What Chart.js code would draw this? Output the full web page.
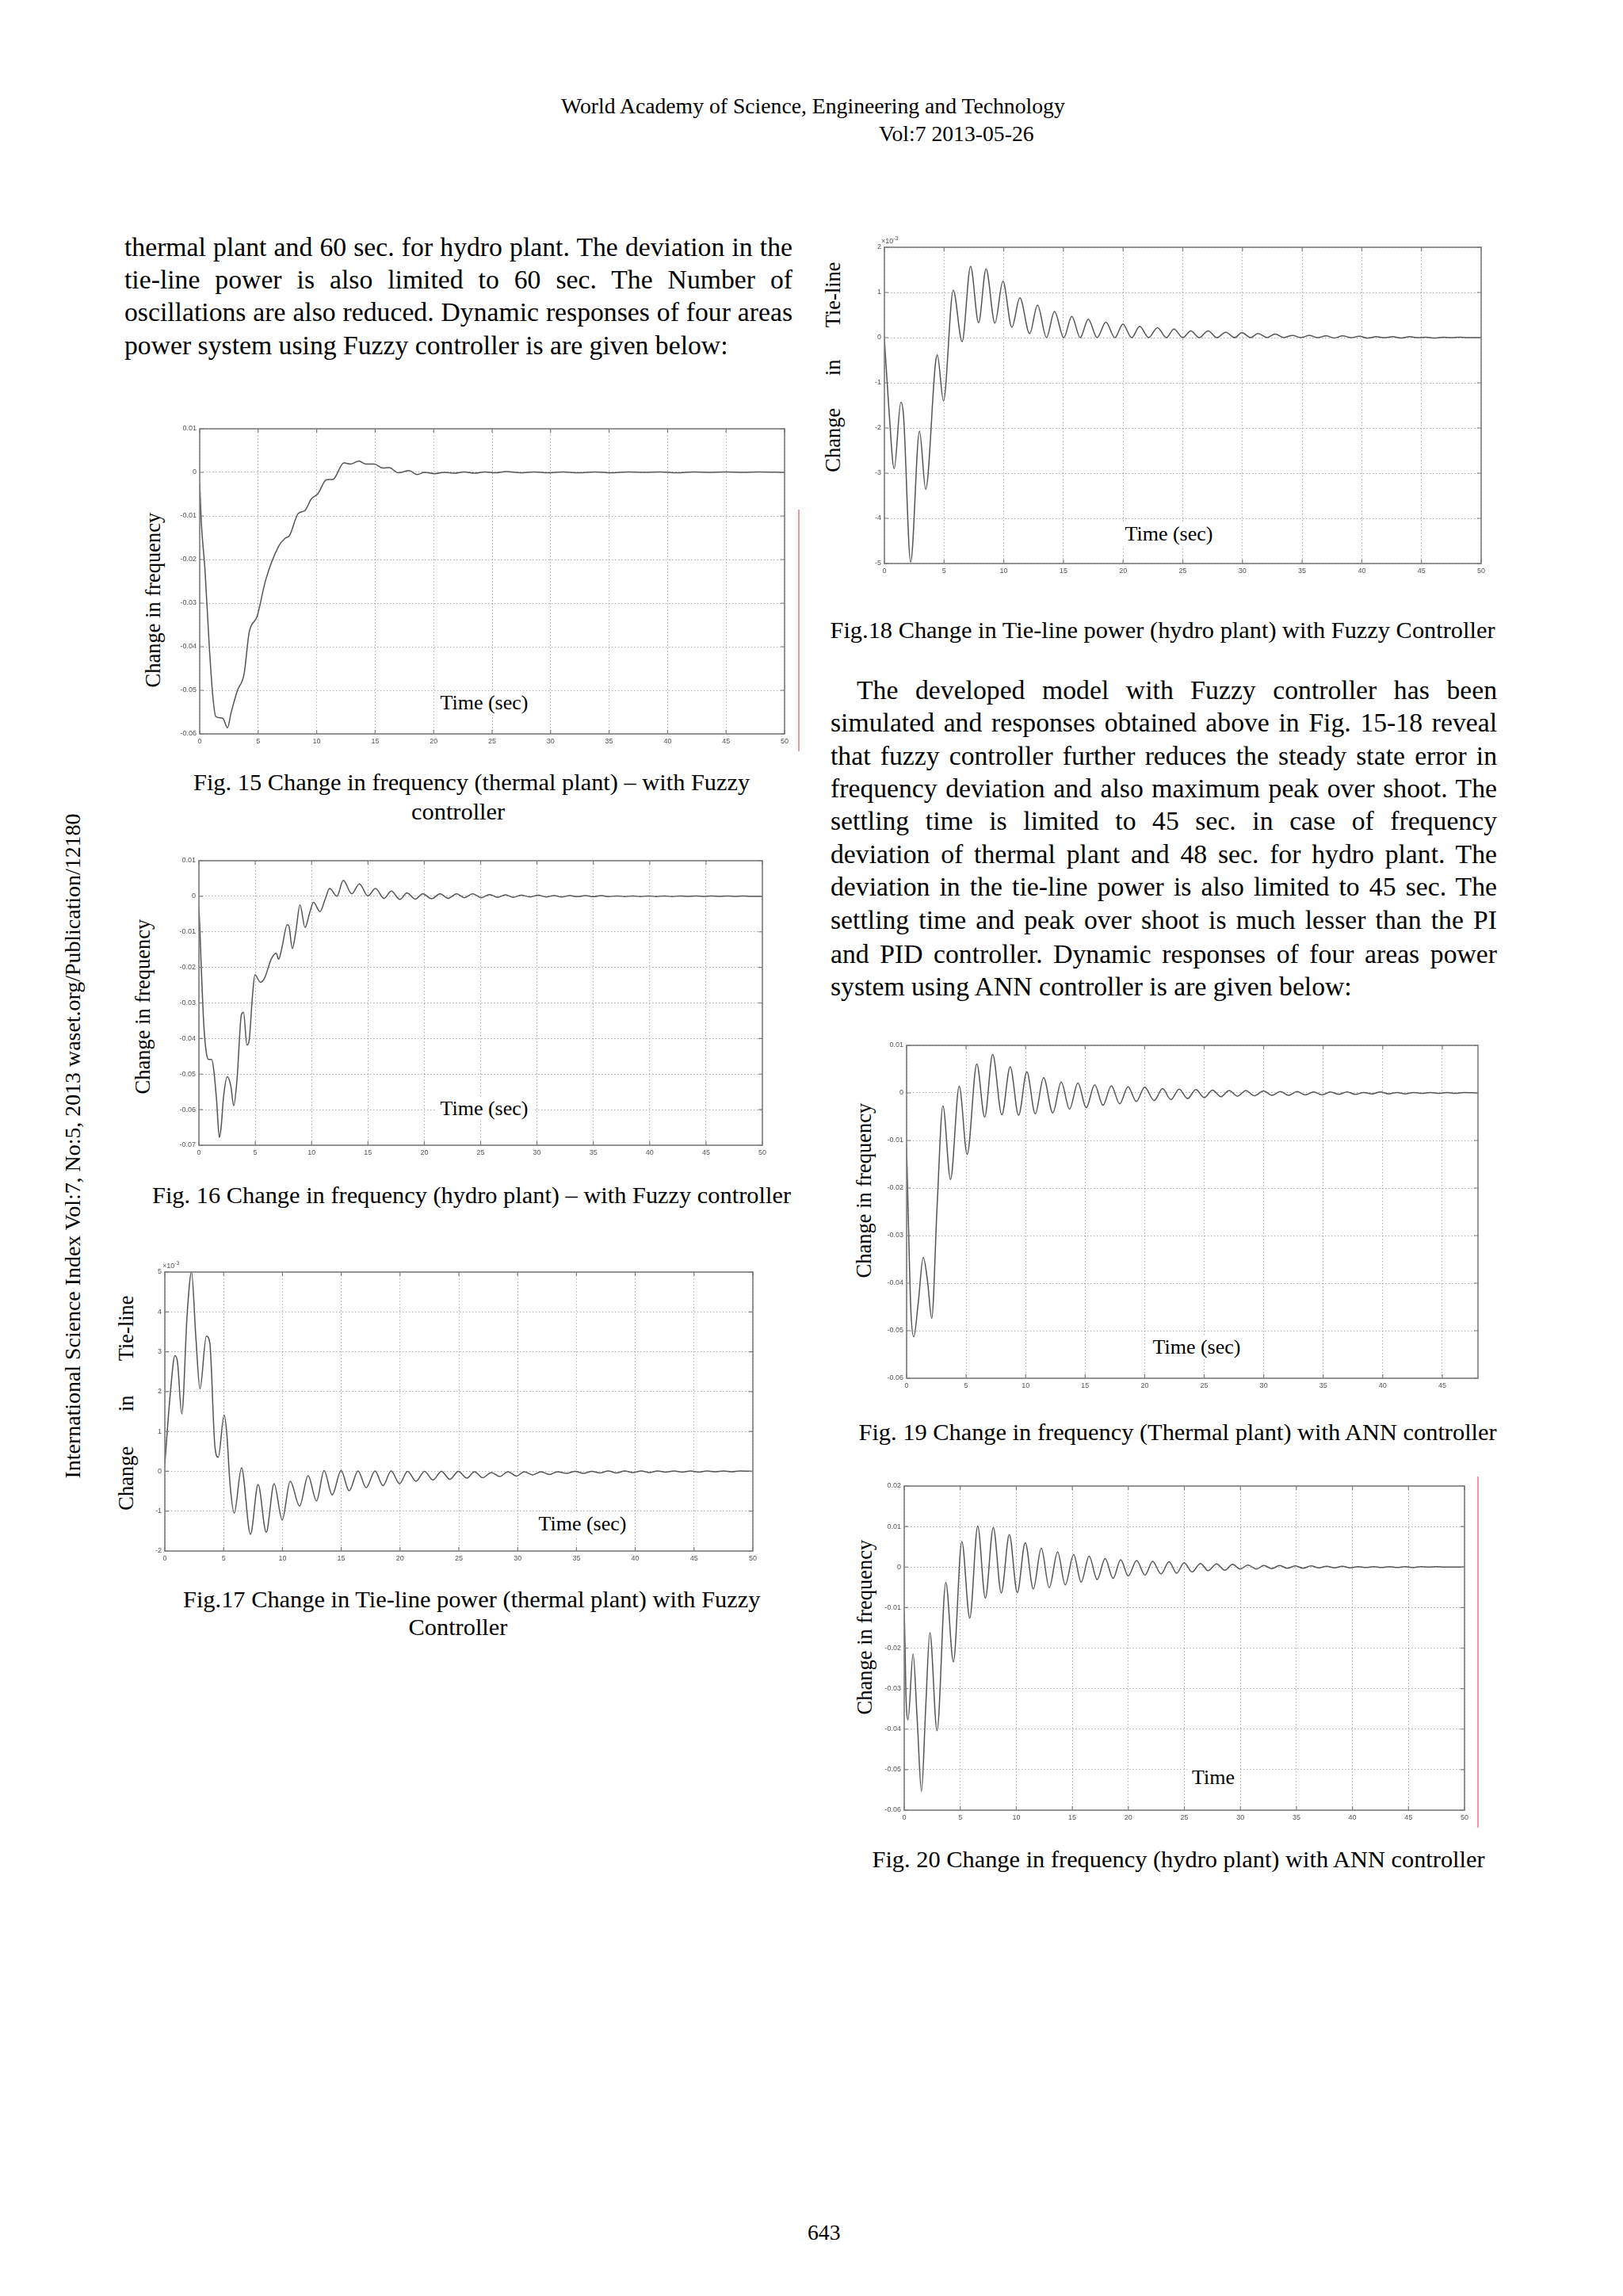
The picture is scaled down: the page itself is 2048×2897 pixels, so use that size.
<!DOCTYPE html>
<html>
<head>
<meta charset="utf-8">
<script src="https://cdn.jsdelivr.net/npm/chart.js@4.4.0/dist/chart.umd.min.js"></script>
<style>
html,body{margin:0;padding:0;background:#fff;}
body{width:2048px;height:2897px;position:relative;overflow:hidden;font-family:"Liberation Serif","Times New Roman",serif;color:#000;}
canvas{position:absolute;}
.t{position:absolute;white-space:nowrap;line-height:1;}
.j{position:absolute;line-height:1;text-align:justify;text-align-last:justify;}
.lab{position:absolute;background:#fff;line-height:1;white-space:nowrap;padding:2px 6px;transform:translate(-50%,-50%);}
.rot{position:absolute;white-space:pre;line-height:1;transform:translate(-50%,-50%) rotate(-90deg);}
.red{position:absolute;width:2px;background:#f09a9a;}
</style>
</head>
<body>
<canvas id="c15"></canvas>
<canvas id="c16"></canvas>
<canvas id="c17"></canvas>
<canvas id="c18"></canvas>
<canvas id="c19"></canvas>
<canvas id="c20"></canvas>
<script>
// ---- datos (tiempo en s, valor) ----
var xTicks50 = [0,5,10,15,20,25,30,35,40,45,50];
var xTicks45 = [0,5,10,15,20,25,30,35,40,45];

// Fig.15 cambio de frecuencia, planta termica, fuzzy
var f15YTicks = [0.01,0,-0.01,-0.02,-0.03,-0.04,-0.05,-0.06];
var f15T = [0,0.15,0.45,0.82,1.11,1.37,1.74,2.0,2.38,2.67,3.23,3.79,4.23,4.9,5.64,6.76,7.31,7.68,8.43,8.98,9.54,10.1,10.84,11.4,12.32,12.88,13.62,14.18,14.92,15.66,16.2,16.96,17.9,18.6,19.2,20.1,20.9,21.8,22.6,23.5,24.4,25.3,26.2,27.4,28.6,29.8,31,32.4,33.8,35.2,36.6,38,39.4,40.8,42.2,43.6,45,46.4,47.8,50];
var f15V = [-0.0025,-0.012,-0.0223,-0.040,-0.051,-0.056,-0.0563,-0.0565,-0.0586,-0.0553,-0.050,-0.0463,-0.0367,-0.0331,-0.0247,-0.0169,-0.0151,-0.0145,-0.0094,-0.0088,-0.0061,-0.0049,-0.0017,-0.0016,0.0022,0.0019,0.0026,0.0019,0.0019,0.001,0.0011,-0.0001,0.0004,-0.0005,0.0,-0.0003,0.0,-0.0002,0.0001,-0.0002,0.0001,-0.0001,0.0002,-0.0001,0.0001,-0.0001,0.0001,-0.0001,0.0001,-0.0001,0.0001,0,0.0001,-0.0001,0.0001,0,0.0001,0,0.0001,0];

// Fig.16 cambio de frecuencia, planta hidro, fuzzy
var f16YTicks = [0.01,0,-0.01,-0.02,-0.03,-0.04,-0.05,-0.06,-0.07];
var f16T = [0,0.08,0.19,0.45,0.68,0.87,1.13,1.32,1.58,1.81,1.96,2.19,2.52,2.83,3.09,3.39,3.77,3.96,4.26,4.45,4.75,4.97,5.46,5.84,6.41,6.86,7.08,7.35,7.84,7.99,8.29,8.59,8.97,9.42,9.8,10.17,10.74,11.23,11.6,12.25,12.81,13.56,14.24,14.99,15.67,16.43,17.07,17.83,18.46,19.22,19.86,20.65,21.4,22.12,22.87,23.55,24.3,25.05,25.8,26.5,27.2,27.9,28.6,29.4,30.1,30.8,31.5,32.2,32.9,33.6,34.3,35.0,35.7,36.4,37.1,37.8,38.5,39.2,39.9,40.6,41.3,42,42.7,43.4,44.1,44.8,45.5,46.2,46.9,47.6,48.3,49,50];
var f16V = [-0.0032,-0.0088,-0.0185,-0.037,-0.0444,-0.0459,-0.0459,-0.0489,-0.0578,-0.0678,-0.0653,-0.0563,-0.0507,-0.0533,-0.0589,-0.0511,-0.0333,-0.0326,-0.0418,-0.0407,-0.0281,-0.0221,-0.0242,-0.0229,-0.0177,-0.016,-0.0177,-0.0147,-0.008,-0.0084,-0.0147,-0.0102,-0.0024,-0.0088,-0.005,-0.0017,-0.0043,-0.0006,0.0022,0.0,0.0045,0.0007,0.0035,0.0001,0.0022,-0.0006,0.0015,-0.0009,0.0009,-0.0008,0.0007,-0.0007,0.0007,-0.0006,0.0007,-0.0004,0.0007,-0.0004,0.0005,-0.0003,0.0004,-0.0003,0.0003,-0.0002,0.0003,-0.0002,0.0002,-0.0002,0.0002,-0.0001,0.0002,-0.0001,0.0002,-0.0001,0.0001,-0.0001,0.0001,-0.0001,0.0001,-0.0001,0.0001,-0.0001,0.0001,0,0.0001,0,0.0001,0,0.0001,0,0.0001,0,0];

// Fig.17 cambio tie-line, planta termica (x10^-3)
var f17YTicks = [5,4,3,2,1,0,-1,-2];
var f17T = [0,0.47,0.86,1.08,1.44,1.9,2.27,2.63,2.99,3.53,3.82,4.25,4.54,5.04,5.26,5.55,5.9,6.52,7.28,7.93,8.62,9.29,9.98,10.66,11.46,12.18,12.9,13.54,14.23,14.99,15.67,16.43,17.12,17.87,18.55,19.24,19.96,20.64,21.36,22.08,22.8,23.52,24.24,24.96,25.68,26.33,27.02,27.77,28.46,29.18,29.9,30.55,31.27,31.99,32.7,33.4,34.15,34.9,35.6,36.3,37.0,37.7,38.4,39.1,39.8,40.5,41.2,41.9,42.6,43.3,44.0,44.7,45.4,46.1,46.8,47.5,48.2,48.9,50];
var f17V = [0.19,1.97,2.9,2.73,1.44,3.95,5.0,3.4,2.07,3.39,3.23,0.65,0.35,1.41,0.98,-0.34,-1.05,0.09,-1.58,-0.33,-1.53,-0.31,-1.22,-0.25,-0.87,-0.11,-0.74,0.02,-0.59,0.02,-0.49,0.01,-0.41,0.01,-0.36,0.01,-0.31,0.0,-0.25,0,-0.22,0,-0.2,0,-0.17,-0.01,-0.16,-0.03,-0.13,-0.01,-0.12,-0.01,-0.09,-0.01,-0.08,-0.01,-0.05,0.0,-0.05,0.0,-0.04,0.01,-0.04,0.01,-0.03,0.01,-0.03,0.01,-0.02,0.01,-0.02,0.01,-0.02,0.01,-0.01,0.01,-0.01,0.01,0];

// Fig.18 cambio tie-line, planta hidro (x10^-3)
var f18YTicks = [2,1,0,-1,-2,-3,-4,-5];
var f18T = [0,0.37,0.82,1.38,1.6,2.2,2.94,3.46,4.28,4.43,4.95,5.77,6.51,7.22,7.89,8.52,9.26,9.93,10.68,11.35,12.17,12.83,13.58,14.25,15.03,15.7,16.41,17.08,17.82,18.56,19.31,19.98,20.72,21.39,22.14,22.88,23.62,24.26,25.0,25.67,26.38,27.12,27.86,28.6,29.35,29.95,30.7,31.3,32.07,32.74,33.45,34.2,34.9,35.6,36.3,37.0,37.7,38.4,39.1,39.8,40.5,41.2,41.9,42.6,43.3,44.0,44.7,45.4,46.1,46.8,47.5,48.2,48.9,50];
var f18V = [-0.03,-1.55,-2.9,-1.43,-1.72,-4.97,-2.07,-3.36,-0.56,-0.38,-1.40,1.05,-0.09,1.58,0.33,1.52,0.32,1.25,0.23,0.88,0.09,0.72,0.0,0.58,0,0.47,0,0.41,0,0.34,0,0.3,0,0.25,0,0.22,0,0.19,0,0.15,0,0.15,0,0.12,0,0.11,0,0.09,0,0.08,0,0.05,0,0.05,0,0.04,-0.01,0.04,0,0.03,-0.01,0.02,0,0.02,-0.01,0.02,0,0.01,-0.01,0.01,0,0.01,0,0];

// Fig.19 cambio de frecuencia, planta termica, ANN
var f19YTicks = [0.01,0,-0.01,-0.02,-0.03,-0.04,-0.05,-0.06];
var f19T = [0,0.1,0.35,0.6,0.98,1.4,1.76,2.11,2.56,3.05,3.69,4.42,5.09,5.9,6.56,7.23,8.0,8.7,9.41,10.1,10.81,11.51,12.28,12.99,13.69,14.39,15.09,15.8,16.5,17.2,17.9,18.6,19.3,20.0,20.8,21.5,22.2,22.9,23.6,24.3,25.0,25.7,26.4,27.1,27.8,28.5,29.2,30.0,30.7,31.4,32.1,32.8,33.5,34.2,34.9,35.6,36.3,37.0,37.7,38.4,39.1,39.8,40.5,41.2,41.9,42.6,43.3,44.0,44.7,45.4,46.1,46.8,48];
var f19V = [-0.0113,-0.0218,-0.0452,-0.0513,-0.0441,-0.0346,-0.0396,-0.0474,-0.024,-0.0027,-0.0182,0.0014,-0.0129,0.0061,-0.0051,0.0081,-0.0046,0.0055,-0.0047,0.0044,-0.0044,0.0032,-0.0042,0.0023,-0.0034,0.0021,-0.0031,0.0017,-0.0026,0.0015,-0.0023,0.0013,-0.0018,0.0012,-0.0016,0.0009,-0.0014,0.0008,-0.0012,0.0007,-0.001,0.0006,-0.0008,0.0005,-0.0007,0.0005,-0.0006,0.0004,-0.0005,0.0003,-0.0005,0.0003,-0.0004,0.0002,-0.0004,0.0002,-0.0003,0.0002,-0.0003,0.0001,-0.0002,0.0002,-0.0002,0.0001,-0.0002,0.0001,-0.0001,0.0001,-0.0001,0.0001,-0.0001,0.0001,0];

// Fig.20 cambio de frecuencia, planta hidro, ANN
var f20YTicks = [0.02,0.01,0,-0.01,-0.02,-0.03,-0.04,-0.05,-0.06];
var f20T = [0,0.07,0.15,0.34,0.79,1.16,1.54,1.91,2.29,2.93,3.71,4.39,5.14,5.85,6.56,7.24,7.95,8.66,9.38,10.09,10.8,11.52,12.23,12.94,13.69,14.37,15.12,15.79,16.5,17.22,17.93,18.64,19.32,19.99,20.74,21.49,22.17,22.92,23.63,24.31,24.98,25.69,26.44,27.12,27.87,28.62,29.3,29.97,30.68,31.43,32.1,32.8,33.5,34.2,34.9,35.6,36.3,37.0,37.7,38.4,39.1,39.8,40.5,41.2,41.9,42.6,43.3,44.0,44.7,45.4,46.1,46.8,47.5,48.2,50];
var f20V = [-0.011,-0.0188,-0.031,-0.0377,-0.0214,-0.0377,-0.0554,-0.0351,-0.0162,-0.0404,-0.0038,-0.0234,0.0063,-0.0126,0.0101,-0.0077,0.0098,-0.0064,0.008,-0.0063,0.006,-0.0054,0.0047,-0.0051,0.0037,-0.0044,0.0031,-0.0037,0.0027,-0.0031,0.0021,-0.0028,0.0018,-0.0022,0.0016,-0.002,0.0014,-0.0017,0.0013,-0.0015,0.0011,-0.0012,0.0009,-0.0009,0.0008,-0.0008,0.0007,-0.0005,0.0005,-0.0005,0.0004,-0.0004,0.0004,-0.0003,0.0003,-0.0003,0.0003,-0.0002,0.0002,-0.0002,0.0002,-0.0002,0.0001,-0.0001,0.0001,-0.0001,0.0001,-0.0001,0.0001,-0.0001,0.0001,0,0.0001,0,0];

// marco y marcas hacia dentro, estilo matlab
var marco = {
  id:'marco',
  afterDraw:function(c){
    var a = c.chartArea, g = c.ctx, sx = c.scales.x, sy = c.scales.y;
    g.save();
    g.strokeStyle = '#7d7d7d';
    g.lineWidth = 1.6;
    g.strokeRect(a.left, a.top, a.right-a.left, a.bottom-a.top);
    g.lineWidth = 1.2;
    g.beginPath();
    sx.ticks.forEach(function(t){
      var p = sx.getPixelForValue(t.value);
      g.moveTo(p, a.bottom); g.lineTo(p, a.bottom-5);
      g.moveTo(p, a.top); g.lineTo(p, a.top+5);
    });
    sy.ticks.forEach(function(t){
      var p = sy.getPixelForValue(t.value);
      g.moveTo(a.left, p); g.lineTo(a.left+5, p);
      g.moveTo(a.right, p); g.lineTo(a.right-5, p);
    });
    g.stroke();
    g.restore();
  }
};

function grafica(id, box, xs, ys, xTicks, yTicks, xMax){
  var padL = 34, padR = 16, padT = 10, padB = 20;
  var cv = document.getElementById(id);
  var w = box[2]-box[0]+padL+padR, h = box[3]-box[1]+padT+padB;
  cv.width = w; cv.height = h;
  cv.style.left = (box[0]-padL)+'px';
  cv.style.top = (box[1]-padT)+'px';
  cv.style.width = w+'px'; cv.style.height = h+'px';
  var pts = xs.map(function(x,i){ return {x:x, y:ys[i]}; });
  var fuente = {family:'"Liberation Sans", Arial, sans-serif', size:9};
  return new Chart(cv.getContext('2d'), {
    type:'line',
    data:{datasets:[{data:pts, borderColor:'#555555', borderWidth:1.5, pointRadius:0, fill:false, cubicInterpolationMode:'monotone'}]},
    options:{
      responsive:false, animation:false, devicePixelRatio:1,
      layout:{padding:{top:padT, right:padR, left:0, bottom:0}},
      plugins:{legend:{display:false}, tooltip:{enabled:false}},
      scales:{
        x:{type:'linear', min:0, max:xMax,
          afterFit:function(s){ s.height = padB; },
          afterBuildTicks:function(s){ s.ticks = xTicks.map(function(v){ return {value:v}; }); },
          ticks:{font:fuente, color:'#555', padding:4, maxRotation:0, autoSkip:false, callback:function(v){ return String(v); }},
          grid:{color:'rgba(120,120,120,0.6)', lineWidth:1, drawTicks:false},
          border:{display:false, dash:[1.5,2.5]}},
        y:{type:'linear', min:yTicks[yTicks.length-1], max:yTicks[0],
          afterFit:function(s){ s.width = padL; },
          afterBuildTicks:function(s){ s.ticks = yTicks.map(function(v){ return {value:v}; }); },
          ticks:{font:fuente, color:'#555', padding:4, autoSkip:false, callback:function(v){ return String(v); }},
          grid:{color:'rgba(120,120,120,0.6)', lineWidth:1, drawTicks:false},
          border:{display:false, dash:[1.5,2.5]}}
      }
    },
    plugins:[marco]
  });
}

grafica('c15', [252,541,990,926], f15T, f15V, xTicks50, f15YTicks, 50);
grafica('c16', [251,1086,962,1445], f16T, f16V, xTicks50, f16YTicks, 50);
grafica('c17', [208,1605,950,1957], f17T, f17V, xTicks50, f17YTicks, 50);
grafica('c18', [1116,312,1869,711], f18T, f18V, xTicks50, f18YTicks, 50);
grafica('c19', [1144,1319,1865,1739], f19T, f19V, xTicks45, f19YTicks, 48);
grafica('c20', [1141,1875,1848,2284], f20T, f20V, xTicks50, f20YTicks, 50);

// ---- textos de la pagina ----
function texto(txt, x, yc, size, align){
  var d = document.createElement('div');
  d.className = 't';
  d.textContent = txt;
  d.style.fontSize = size+'px';
  d.style.top = (yc - 0.56*size)+'px';
  document.body.appendChild(d);
  if(align === 'c'){ d.style.left = (x - d.offsetWidth/2)+'px'; }
  else { d.style.left = x+'px'; }
  return d;
}
var tamParrafo = 33.7;
function linea(txt, x, yc, w, ultima, sangria){
  var d = document.createElement('div');
  d.className = 'j';
  d.textContent = txt;
  d.style.fontSize = tamParrafo+'px';
  d.style.left = x+'px';
  d.style.width = w+'px';
  d.style.top = (yc - 0.56*tamParrafo)+'px';
  if(ultima){ d.style.textAlignLast = 'left'; }
  if(sangria){ d.style.textIndent = sangria+'px'; }
  document.body.appendChild(d);
}
function vertical(txt, xc, yc, size, espacio){
  var d = document.createElement('div');
  d.className = 'rot';
  d.textContent = txt;
  d.style.fontSize = size+'px';
  d.style.left = xc+'px';
  d.style.top = yc+'px';
  if(espacio){ d.style.wordSpacing = espacio+'px'; }
  document.body.appendChild(d);
}
function etiqueta(txt, xc, yc){
  var d = document.createElement('div');
  d.className = 'lab';
  d.textContent = txt;
  d.style.fontSize = '26px';
  d.style.left = xc+'px';
  d.style.top = yc+'px';
  document.body.appendChild(d);
}
function rojo(x, y1, y2){
  var d = document.createElement('div');
  d.className = 'red';
  d.style.left = x+'px'; d.style.top = y1+'px'; d.style.height = (y2-y1)+'px';
  document.body.appendChild(d);
}
function exponente(x, y){
  var d = document.createElement('div');
  d.className = 't';
  d.style.left = x+'px'; d.style.top = y+'px';
  d.style.fontFamily = '"Liberation Sans", Arial, sans-serif';
  d.style.fontSize = '9px'; d.style.color = '#555';
  d.innerHTML = '&times;10<sup style="font-size:7px">-3</sup>';
  document.body.appendChild(d);
}

texto('World Academy of Science, Engineering and Technology', 1026, 136, 27.7, 'c');
texto('Vol:7 2013-05-26', 1109, 171, 27.7);
vertical('International Science Index Vol:7, No:5, 2013 waset.org/Publication/12180', 92, 1446, 27.9);
texto('643', 1040, 2819, 27.7, 'c');

linea('thermal plant and 60 sec. for hydro plant. The deviation in the', 157, 314, 843);
linea('tie-line power is also limited to 60 sec. The Number of', 157, 355, 843);
linea('oscillations are also reduced. Dynamic responses of four areas', 157, 396, 843);
linea('power system using Fuzzy controller is are given below:', 157, 438, 843, true);

linea('The developed model with Fuzzy controller has been', 1048, 873, 841, false, 33);
linea('simulated and responses obtained above in Fig. 15-18 reveal', 1048, 914, 841);
linea('that fuzzy controller further reduces the steady state error in', 1048, 956, 841);
linea('frequency deviation and also maximum peak over shoot. The', 1048, 997, 841);
linea('settling time is limited to 45 sec. in case of frequency', 1048, 1038, 841);
linea('deviation of thermal plant and 48 sec. for hydro plant. The', 1048, 1080, 841);
linea('deviation in the tie-line power is also limited to 45 sec. The', 1048, 1121, 841);
linea('settling time and peak over shoot is much lesser than the PI', 1048, 1163, 841);
linea('and PID controller. Dynamic responses of four areas power', 1048, 1206, 841);
linea('system using ANN controller is are given below:', 1048, 1247, 841, true);

// titulos de eje y etiquetas dentro de la grafica
vertical('Change in frequency', 193, 757, 26.5);
vertical('Change in frequency', 180, 1270, 26.5);
vertical('Change in Tie-line', 159, 1770, 26.5, 37);
vertical('Change in Tie-line', 1051, 463, 26.5, 34);
vertical('Change in frequency', 1090, 1502, 26.5);
vertical('Change in frequency', 1091, 2053, 26.5);

etiqueta('Time (sec)', 611, 887);
etiqueta('Time (sec)', 611, 1399);
etiqueta('Time (sec)', 735, 1923);
etiqueta('Time (sec)', 1475, 674);
etiqueta('Time (sec)', 1510, 1700);
etiqueta('Time', 1531, 2243);

exponente(1112, 297);
exponente(205, 1590);

rojo(1007, 643, 948);
rojo(1864, 1863, 2306);

var tamPie = 30.4;
texto('Fig. 15 Change in frequency (thermal plant) \u2013 with Fuzzy', 595, 989, tamPie, 'c');
texto('controller', 578, 1026, tamPie, 'c');
texto('Fig. 16 Change in frequency (hydro plant) \u2013 with Fuzzy controller', 595, 1510, tamPie, 'c');
texto('Fig.17 Change in Tie-line power (thermal plant) with Fuzzy', 595, 2020, tamPie, 'c');
texto('Controller', 578, 2055, tamPie, 'c');
texto('Fig.18 Change in Tie-line power (hydro plant) with Fuzzy Controller', 1467, 797, tamPie, 'c');
texto('Fig. 19 Change in frequency (Thermal plant) with ANN controller', 1486, 1809, tamPie, 'c');
texto('Fig. 20 Change in frequency (hydro plant) with ANN controller', 1487, 2348, tamPie, 'c');
</script>
</body>
</html>
